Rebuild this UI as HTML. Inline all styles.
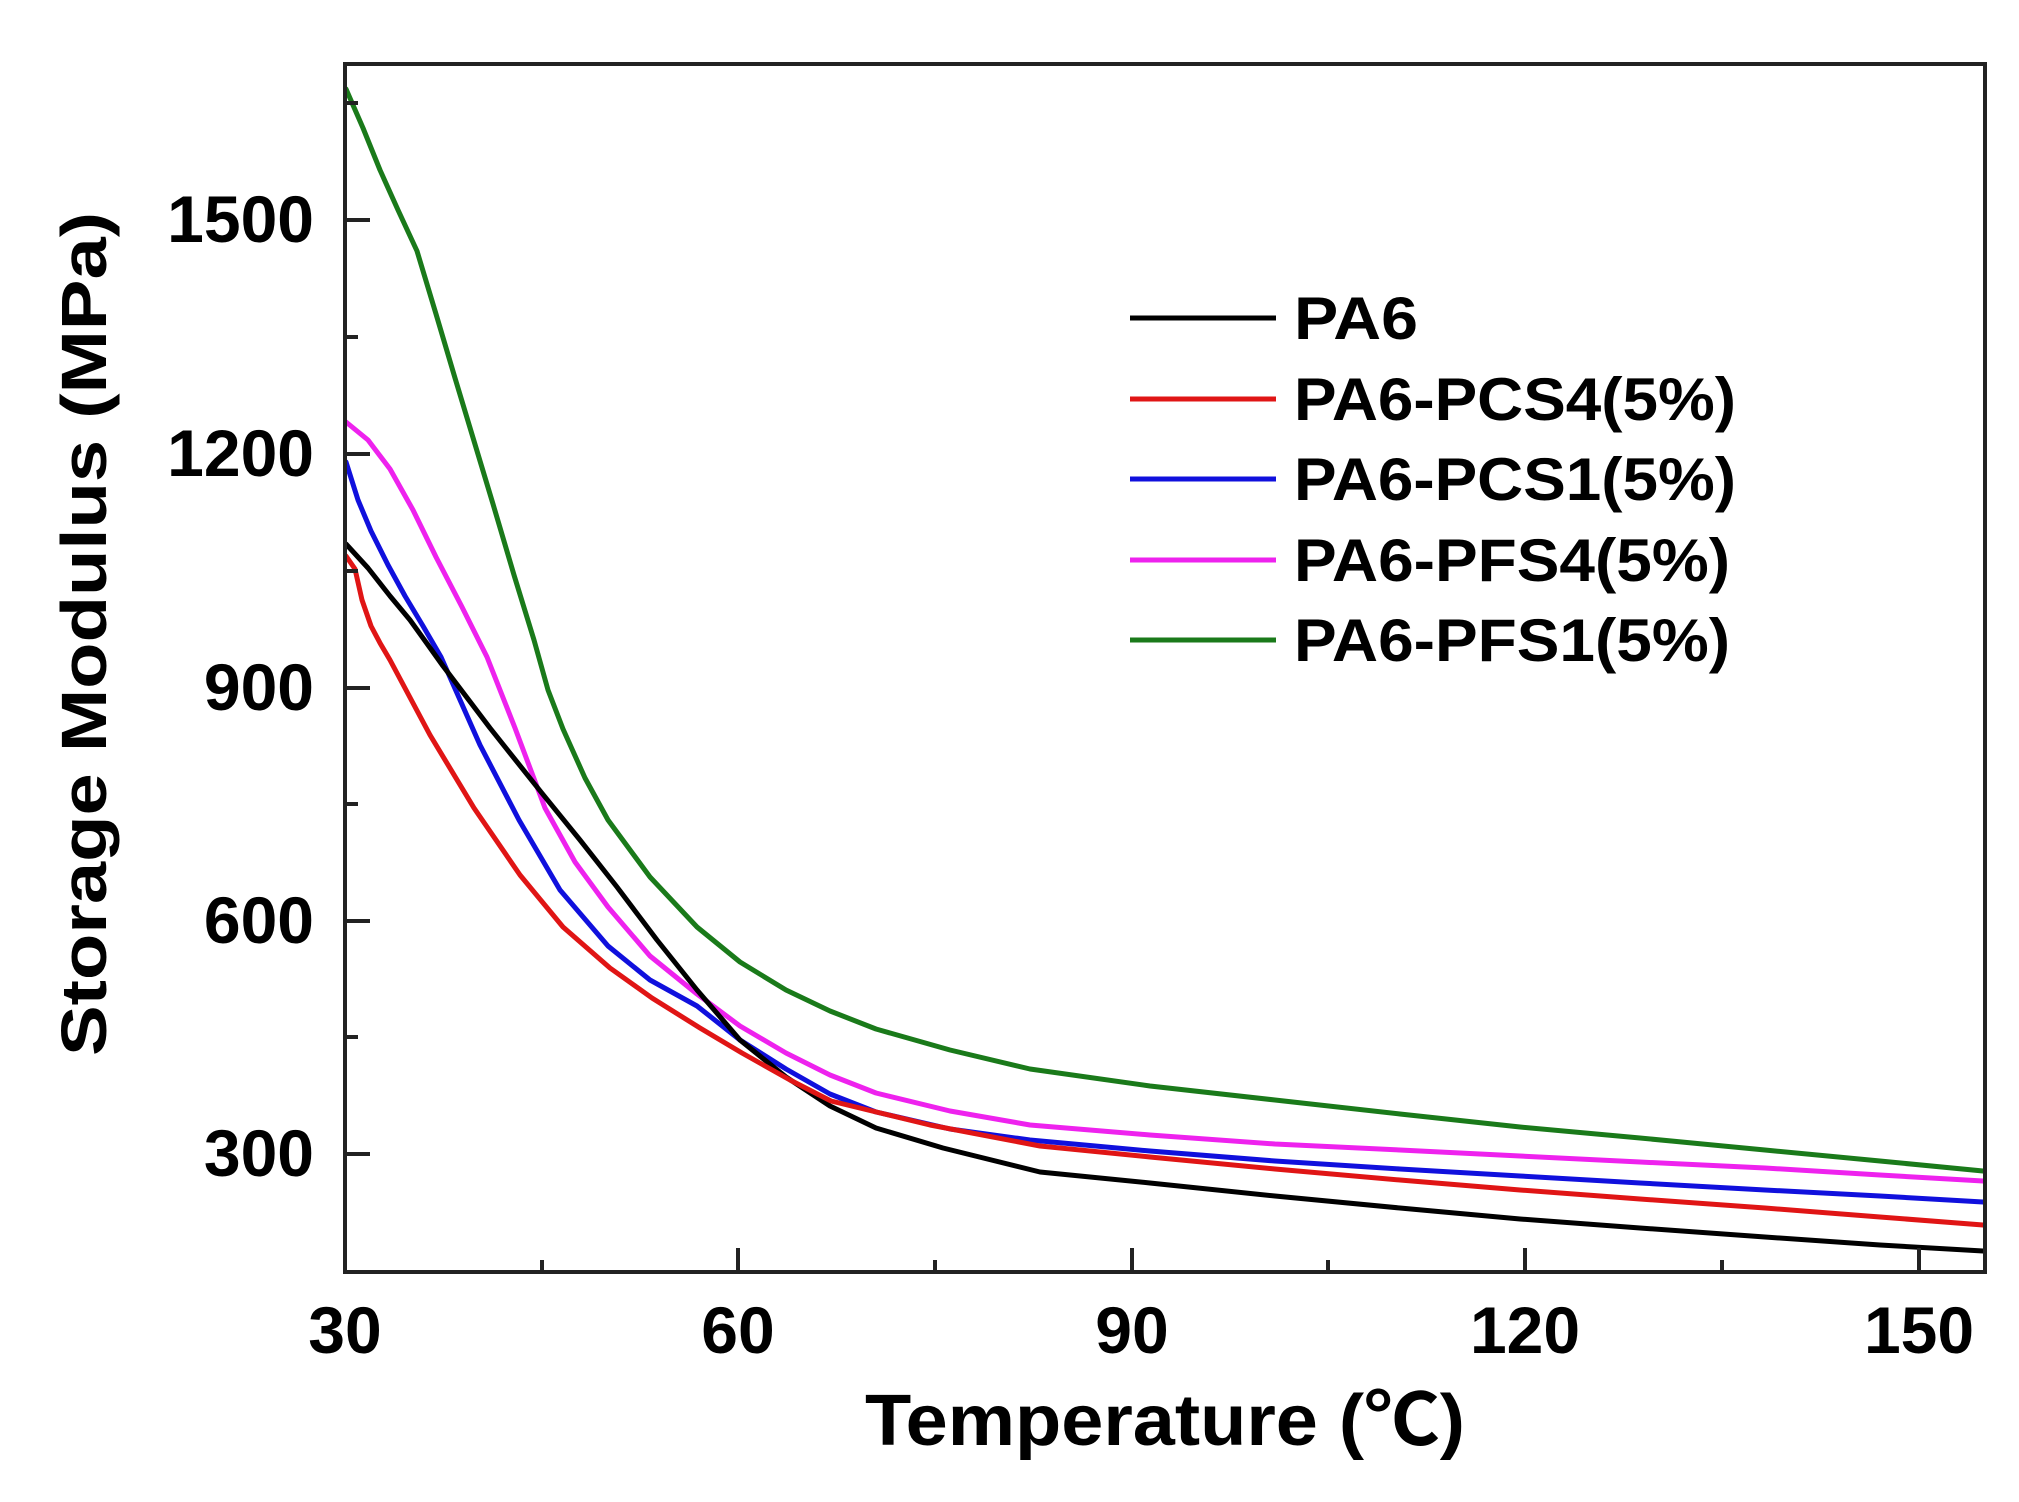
<!DOCTYPE html>
<html><head><meta charset="utf-8"><style>
html,body{margin:0;padding:0;background:#fff;}
svg{display:block;}
text{font-family:"Liberation Sans","Noto Sans CJK SC",sans-serif;font-weight:bold;fill:#000;}
</style></head><body>
<svg width="2019" height="1502" viewBox="0 0 2019 1502" xmlns="http://www.w3.org/2000/svg">
<rect width="2019" height="1502" fill="#fff"/>
<g fill="none" stroke-width="5" stroke-linejoin="round" stroke-linecap="round">
<polyline stroke="#1a7a1a" points="346,89 363,128 380,170 398,210 417,251 436,314 455,378 474,441 493,504 514,575 534,640 548,690 563,729 585,778 608,820 650,877 697,927 740,962 786,990 830,1011 876,1029 950,1050 1030,1069 1150,1086 1275,1100 1400,1114 1520,1127 1640,1138 1765,1150 1880,1161 1983,1171"/>
<polyline stroke="#ee22ee" points="346,422 368,440 390,469 413,510 436,557 462,607 487,657 515,728 545,808 575,862 608,907 650,956 697,994 740,1026 786,1053 830,1075 876,1093 950,1111 1030,1125 1150,1135 1275,1144 1400,1150 1520,1156 1640,1162 1765,1168 1880,1175 1983,1181"/>
<polyline stroke="#1010dd" points="346,462 358,500 371,531 388,565 405,596 423,626 441,657 480,745 519,820 560,890 608,946 650,980 697,1006 740,1040 786,1069 830,1094 876,1112 950,1129 1030,1140 1150,1151 1275,1161 1400,1169 1520,1176 1640,1183 1765,1190 1880,1196 1983,1202"/>
<polyline stroke="#000" points="346,544 368,568 390,596 410,620 428,645 443,666 490,728 541,792 580,840 617,887 657,940 697,990 740,1040 786,1077 830,1106 876,1128 943,1148 1040,1172 1150,1183 1275,1196 1400,1208 1520,1219 1640,1228 1765,1237 1880,1245 1983,1251"/>
<polyline stroke="#e01515" points="346,556 355,569 362,600 371,626 380,643 390,660 430,735 474,808 520,875 563,927 610,968 652,998 700,1028 742,1053 790,1080 831,1101 930,1125 1040,1146 1150,1157 1275,1169 1400,1180 1520,1190 1640,1199 1765,1208 1880,1217 1983,1225"/>
</g>
<rect x="345" y="64" width="1640" height="1208" fill="none" stroke="#222" stroke-width="4"/>
<g stroke="#222" stroke-width="4">
<line x1="345" y1="1154" x2="370" y2="1154"/><line x1="345" y1="921" x2="370" y2="921"/><line x1="345" y1="688" x2="370" y2="688"/><line x1="345" y1="454" x2="370" y2="454"/><line x1="345" y1="220" x2="370" y2="220"/>
<line x1="345" y1="1037" x2="358" y2="1037"/><line x1="345" y1="804" x2="358" y2="804"/><line x1="345" y1="571" x2="358" y2="571"/><line x1="345" y1="337" x2="358" y2="337"/><line x1="345" y1="103" x2="358" y2="103"/>
<line x1="738" y1="1272" x2="738" y2="1248"/><line x1="1132" y1="1272" x2="1132" y2="1248"/><line x1="1525" y1="1272" x2="1525" y2="1248"/><line x1="1919" y1="1272" x2="1919" y2="1248"/>
<line x1="542" y1="1272" x2="542" y2="1260"/><line x1="935" y1="1272" x2="935" y2="1260"/><line x1="1328" y1="1272" x2="1328" y2="1260"/><line x1="1722" y1="1272" x2="1722" y2="1260"/>
</g>
<g font-size="66" text-anchor="end">
<text x="314" y="242">1500</text><text x="314" y="476">1200</text><text x="314" y="710">900</text><text x="314" y="943">600</text><text x="314" y="1176">300</text>
</g>
<g font-size="66" text-anchor="middle">
<text x="345" y="1353">30</text><text x="738" y="1353">60</text><text x="1132" y="1353">90</text><text x="1525" y="1353">120</text><text x="1919" y="1353">150</text>
</g>
<text x="1165" y="1445" font-size="72" text-anchor="middle" textLength="600" lengthAdjust="spacingAndGlyphs">Temperature (℃)</text>
<text transform="translate(106,634) rotate(-90)" font-size="64" text-anchor="middle" textLength="844" lengthAdjust="spacingAndGlyphs">Storage Modulus (MPa)</text>
<g stroke-width="5">
<line x1="1130" y1="318" x2="1276" y2="318" stroke="#000"/>
<line x1="1130" y1="399" x2="1276" y2="399" stroke="#e01515"/>
<line x1="1130" y1="479" x2="1276" y2="479" stroke="#1010dd"/>
<line x1="1130" y1="560" x2="1276" y2="560" stroke="#ee22ee"/>
<line x1="1130" y1="640" x2="1276" y2="640" stroke="#1a7a1a"/>
</g>
<g font-size="60">
<text x="1294" y="339" textLength="124" lengthAdjust="spacingAndGlyphs">PA6</text>
<text x="1294" y="420" textLength="442" lengthAdjust="spacingAndGlyphs">PA6-PCS4(5%)</text>
<text x="1294" y="500" textLength="442" lengthAdjust="spacingAndGlyphs">PA6-PCS1(5%)</text>
<text x="1294" y="581" textLength="436" lengthAdjust="spacingAndGlyphs">PA6-PFS4(5%)</text>
<text x="1294" y="661" textLength="436" lengthAdjust="spacingAndGlyphs">PA6-PFS1(5%)</text>
</g>
</svg>
</body></html>
